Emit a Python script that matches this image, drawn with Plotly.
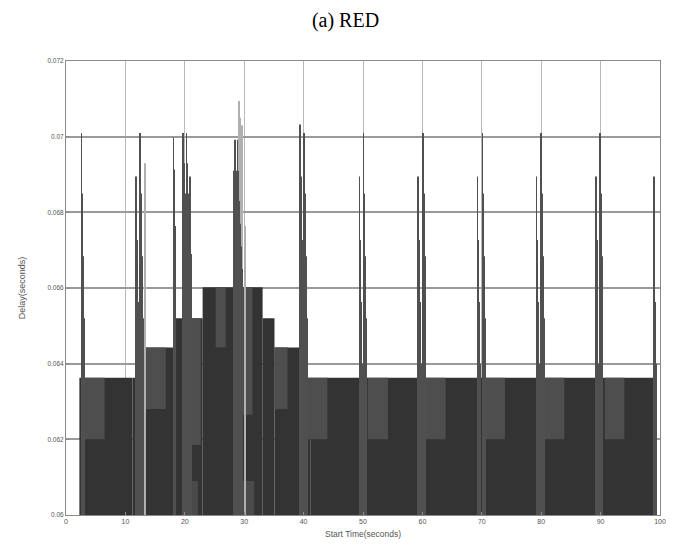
import plotly.graph_objects as go

# ---- step profile of the dense delay bars (start, end, delay) ----
step_start = [2.25, 11.2, 13.3, 18.3, 23.0, 33.1, 35.1, 39.3, 41.2]
step_end = [11.2, 13.3, 18.3, 23.0, 33.1, 35.1, 39.3, 41.2, 99.3]
step_delay = [0.06363, 0.06363, 0.06443, 0.0652, 0.06602, 0.0652, 0.06443, 0.06363, 0.06363]

# ---- regions where bars alternate between two delays (lighter grey) ----
mix_start = [2.8, 13.4, 20.1, 25.2, 29.2, 35.1, 40.7, 50.8, 60.5, 70.6, 80.6, 90.7]
mix_end = [6.5, 16.8, 22.7, 26.9, 31.4, 37.3, 44.0, 54.2, 63.9, 73.9, 83.9, 94.0]
mix_high = [0.06363, 0.06443, 0.0652, 0.06602, 0.06602, 0.06443, 0.06363,
            0.06363, 0.06363, 0.06363, 0.06363, 0.06363]
mix_low = [0.0620, 0.0628, 0.06185, 0.06443, 0.06265, 0.0628, 0.0620,
           0.0620, 0.0620, 0.0620, 0.0620, 0.0620]

# ---- short bars near the bottom ----
low_start = [20.2, 28.9]
low_end = [22.2, 31.7]
low_delay = [0.0609, 0.0609]

# ---- individual spike bars (start time, delay) ----
spike_t = [
    2.6, 2.75, 2.9, 3.05,
    11.8, 11.95, 12.1, 12.25, 12.5, 12.65, 12.8, 12.95,
    18.1, 18.2, 18.3, 18.4,
    19.7, 19.85, 20.0, 20.15, 20.3, 20.45, 20.6, 20.75, 20.9, 21.05,
    28.3, 28.45, 28.6, 28.75, 28.9, 29.05, 29.2, 29.35, 29.5, 29.65,
    39.4, 39.55, 39.7, 39.85, 40.1, 40.25, 40.4, 40.55,
    49.4, 49.55, 49.7, 49.85, 50.1, 50.25, 50.4, 50.55,
    59.3, 59.45, 59.6, 59.75, 60.1, 60.25, 60.4, 60.55,
    69.3, 69.45, 69.6, 69.75, 70.1, 70.25, 70.4, 70.55,
    79.2, 79.35, 79.5, 79.65, 80.0, 80.15, 80.3, 80.45,
    89.2, 89.35, 89.5, 89.65, 89.9, 90.05, 90.2, 90.35,
    99.0, 99.1, 99.2, 99.3,
]
spike_d = [
    0.0701, 0.0685, 0.06684, 0.0652,
    0.06895, 0.06727, 0.06563, 0.0640, 0.0701, 0.0685, 0.06684, 0.0652,
    0.06998, 0.06913, 0.06843, 0.06764,
    0.0701, 0.0693, 0.0685, 0.0677, 0.0701, 0.0693, 0.0685, 0.0677, 0.06895, 0.0669,
    0.0691, 0.06992, 0.0691, 0.0685, 0.06992, 0.0691, 0.0683, 0.0677, 0.0671, 0.0665,
    0.07032, 0.06895, 0.06727, 0.06563, 0.0701, 0.0685, 0.06684, 0.0652,
    0.06895, 0.06727, 0.06563, 0.0640, 0.0701, 0.0685, 0.06684, 0.0652,
    0.06895, 0.06727, 0.06563, 0.0640, 0.0701, 0.0685, 0.06684, 0.0652,
    0.06895, 0.06727, 0.06563, 0.0640, 0.0701, 0.0685, 0.06684, 0.0652,
    0.06895, 0.06727, 0.06563, 0.0640, 0.0701, 0.0685, 0.06684, 0.0652,
    0.06895, 0.06727, 0.06563, 0.0640, 0.0701, 0.0685, 0.06684, 0.0652,
    0.06895, 0.06727, 0.06563, 0.0640,
]

# ---- lighter, taller bars ----
light_t = [13.3, 29.1, 29.35, 29.6, 30.1]
light_d = [0.0693, 0.07094, 0.0705, 0.0703, 0.06764]

y_ticks = [0.06, 0.062, 0.064, 0.066, 0.068, 0.07, 0.072]
y_labels = ["0.06", "0.062", "0.064", "0.066", "0.068", "0.07", "0.072"]
x_ticks = [0, 10, 20, 30, 40, 50, 60, 70, 80, 90, 100]

DARK = "#333333"

fig = go.Figure()

fig.add_trace(go.Bar(
    x=[(a + b) / 2 for a, b in zip(step_start, step_end)],
    y=[d - 0.06 for d in step_delay], base=0.06,
    width=[b - a for a, b in zip(step_start, step_end)],
    marker=dict(color=DARK, line=dict(width=0)), showlegend=False))

fig.add_trace(go.Bar(
    x=[(a + b) / 2 for a, b in zip(mix_start, mix_end)],
    y=[h - l for h, l in zip(mix_high, mix_low)], base=mix_low,
    width=[b - a for a, b in zip(mix_start, mix_end)],
    marker=dict(color="#4e4e4e", line=dict(width=0)), showlegend=False))

fig.add_trace(go.Bar(
    x=[(a + b) / 2 for a, b in zip(low_start, low_end)],
    y=[d - 0.06 for d in low_delay], base=0.06,
    width=[b - a for a, b in zip(low_start, low_end)],
    marker=dict(color="#4a4a4a", line=dict(width=0)), showlegend=False))

fig.add_trace(go.Bar(
    x=light_t, y=[d - 0.06 for d in light_d], base=0.06, width=0.12,
    marker=dict(color="#b0b0b0", line=dict(width=0)), showlegend=False))

fig.add_trace(go.Bar(
    x=spike_t, y=[d - 0.06 for d in spike_d], base=0.06, width=0.1,
    marker=dict(color="#505050", line=dict(width=0)), showlegend=False))

fig.update_layout(
    width=675, height=548,
    margin=dict(l=58, r=23, t=53, b=41),
    paper_bgcolor="white", plot_bgcolor="white",
    barmode="overlay",
    title=dict(text="(a) RED", x=0.5, xref="container", xanchor="center",
               y=1 - 12 / 548, yref="container", yanchor="middle",
               font=dict(family="Liberation Serif", size=20, color="black")),
    xaxis=dict(range=[0, 100], tickvals=x_ticks, showgrid=True,
               gridcolor="#b8b8b8", gridwidth=1, showline=True, mirror=True,
               linecolor="#8a8a8a", linewidth=1, zeroline=False,
               ticks="inside", ticklen=3, tickcolor="#8a8a8a",
               tickfont=dict(family="Liberation Sans", size=7, color="#555"),
               title=dict(text="Start Time(seconds)", standoff=6,
                          font=dict(family="Liberation Sans", size=8.5, color="#555"))),
    yaxis=dict(range=[0.06, 0.072], tickvals=y_ticks, ticktext=y_labels,
               showgrid=True, gridcolor="#9a9a9a", gridwidth=1.5,
               showline=True, mirror=True, linecolor="#8a8a8a", linewidth=1,
               zeroline=False, ticks="inside", ticklen=3, tickcolor="#8a8a8a",
               tickfont=dict(family="Liberation Sans", size=6.5, color="#555"),
               title=dict(text="Delay(seconds)", standoff=20,
                          font=dict(family="Liberation Sans", size=9, color="#555"))),
)

fig.write_html("out.html")
